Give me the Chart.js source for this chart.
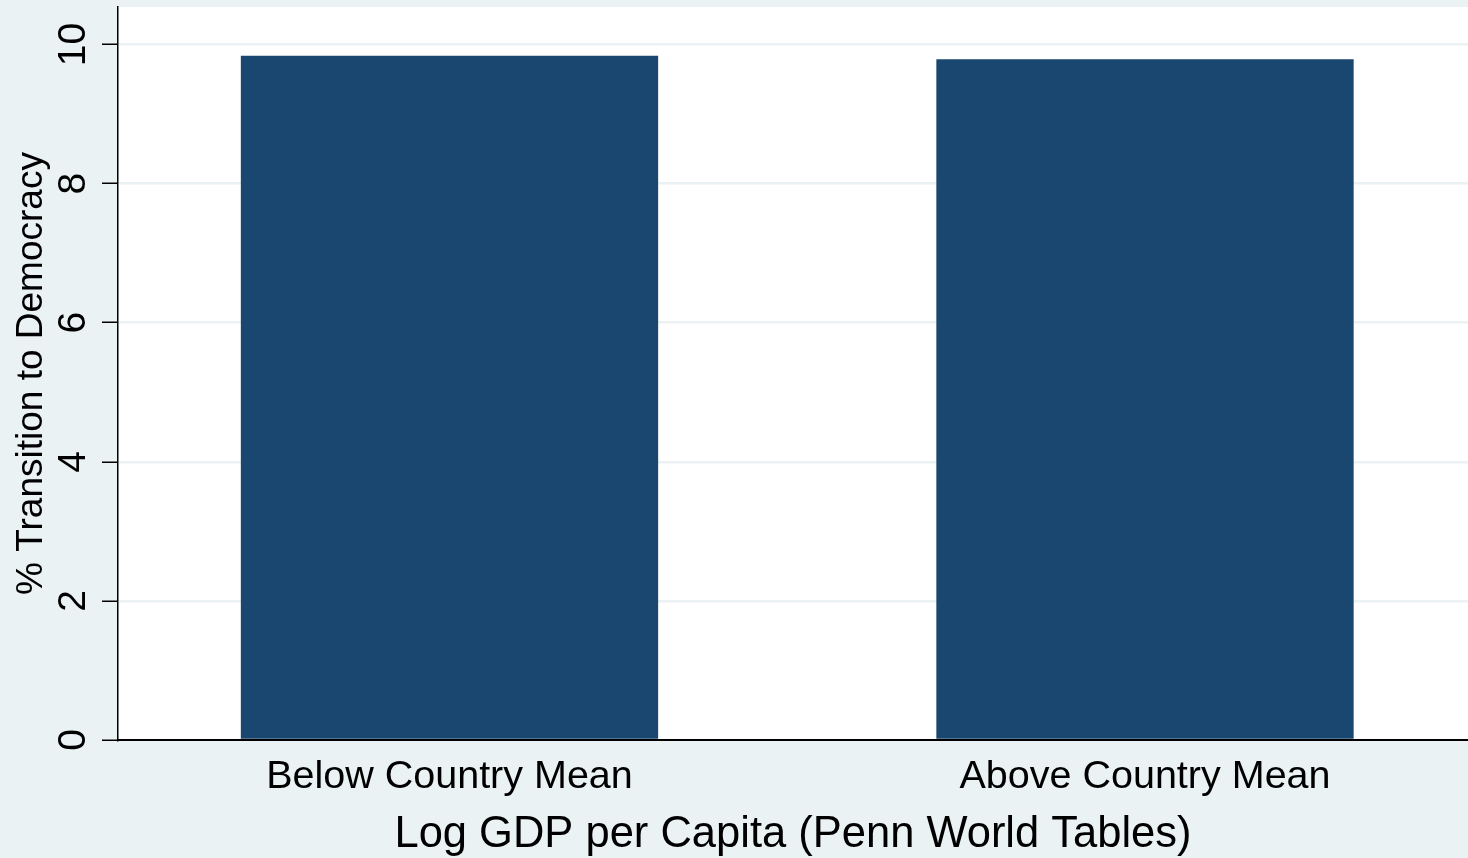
<!DOCTYPE html>
<html>
<head>
<meta charset="utf-8">
<script src="https://cdn.jsdelivr.net/npm/chart.js@4.4.1/dist/chart.umd.min.js"></script>
<style>
  html, body { margin: 0; padding: 0; background: #EAF2F3; }
  #wrap { width: 1468px; height: 858px; }
</style>
</head>
<body>
<div id="wrap"><canvas id="c" width="1468" height="858"></canvas></div>
<script>
// ---- data ----
const categories = ['Below Country Mean', 'Above Country Mean'];
const values = [9.84, 9.79];
const yTickValues = [0, 2, 4, 6, 8, 10];
const xTitle = 'Log GDP per Capita (Penn World Tables)';
const yTitle = '% Transition to Democracy';

const FONT = '"Liberation Sans", Arial, Helvetica, sans-serif';

const bgPlugin = {
  id: 'bg',
  beforeDraw(chart) {
    const { ctx, chartArea: a } = chart;
    ctx.save();
    ctx.fillStyle = '#EAF2F3';
    ctx.fillRect(0, 0, chart.width, chart.height);
    ctx.fillStyle = '#FFFFFF';
    ctx.fillRect(a.left, a.top, a.right - a.left, a.bottom - a.top);
    ctx.restore();
  }
};

new Chart(document.getElementById('c'), {
  type: 'bar',
  data: {
    datasets: [{
      data: values.map((v, i) => ({ x: i, y: v })),
      backgroundColor: '#1A476F',
      borderWidth: 0,
      categoryPercentage: 0.6,
      barPercentage: 1.0
    }]
  },
  options: {
    responsive: false,
    devicePixelRatio: 1,
    animation: false,
    layout: { padding: { top: 7, right: 0, bottom: 0, left: 0 } },
    plugins: { legend: { display: false }, tooltip: { enabled: false }, title: { display: false } },
    scales: {
      x: {
        type: 'linear',
        offset: false,
        min: -0.4766,
        max: 1.4644,
        afterBuildTicks(scale) { scale.ticks = categories.map((c, i) => ({ value: i })); },
        afterFit(scale) {
          scale.height = 118;
          scale.paddingLeft = 0; scale.paddingRight = 0;
        },
        grid: { display: false, drawTicks: false },
        border: { display: true, color: '#000000', width: 2 },
        ticks: {
          padding: 13,
          color: '#000000',
          font: { family: FONT, size: 39.5 },
          maxRotation: 0, minRotation: 0,
          autoSkip: false,
          callback: (v) => categories[v]
        },
        title: {
          display: true,
          text: xTitle,
          color: '#000000',
          font: { family: FONT, size: 43.5, lineHeight: 1.05 },
          padding: { top: 0, bottom: 0 }
        }
      },
      y: {
        type: 'linear',
        min: 0,
        max: 10.54,
        afterBuildTicks(scale) { scale.ticks = yTickValues.map(v => ({ value: v })); },
        afterFit(scale) {
          scale.width = 118;
          scale.paddingTop = 0; scale.paddingBottom = 0;
        },
        grid: {
          color: '#EAF2F3',
          lineWidth: 2.5,
          tickColor: '#000000',
          tickWidth: 1.5,
          tickLength: 16
        },
        border: { display: true, color: '#000000', width: 1.5 },
        ticks: {
          padding: 6,
          color: '#000000',
          font: { family: FONT, size: 39 },
          minRotation: 90, maxRotation: 90,
          crossAlign: 'center',
          callback: (v) => String(v)
        },
        title: {
          display: true,
          text: yTitle,
          color: '#000000',
          font: { family: FONT, size: 37 },
          padding: { top: 10, bottom: 0 }
        }
      }
    }
  },
  plugins: [bgPlugin]
});
</script>
</body>
</html>
